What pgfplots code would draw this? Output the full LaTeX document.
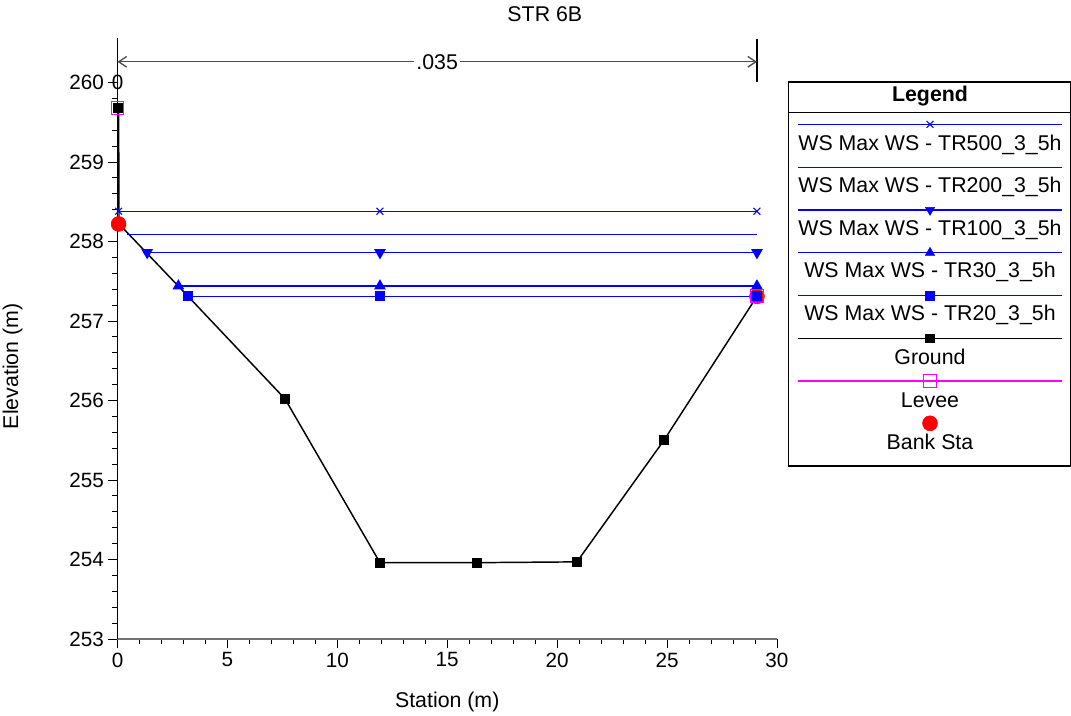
\documentclass[border=0pt]{standalone}
\usepackage{fontspec}
\setmainfont{Liberation Sans}
\usepackage{pgfplots}
\pgfplotsset{compat=1.18}
\usetikzlibrary{arrows.meta}
\definecolor{wsblue}{RGB}{0,0,255}
\definecolor{levee}{RGB}{255,0,255}
\begin{document}
\begin{tikzpicture}[font=\fontsize{16}{19}\selectfont]
\path[use as bounding box] (0,0) rectangle (803.25pt,537pt);
\begin{axis}[
  at={(88.125pt,57.75pt)}, anchor=south west,
  scale only axis, width=494.6pt, height=417.4pt,
  xmin=0, xmax=30, ymin=253, ymax=260,
  axis x line*=bottom, axis y line*=left,
  x axis line style={black!55, line width=1pt, -},
  y axis line style={black, line width=0.8pt, -},
  xtick={0,5,...,30}, ytick={253,254,...,260},
  minor x tick num=4, minor y tick num=4,
  tick align=outside, major tick length=6.75pt, minor tick length=4pt,
  every tick/.style={black, line width=0.6pt},
  /pgf/number format/assume math mode=true,
  tick label style={font=\fontsize{15.5}{18}\selectfont},
  xlabel={Station (m)},
  xlabel style={at={(axis description cs:0.5,-0.1132)}, anchor=center},
  ylabel={Elevation (m)},
  ylabel style={at={(axis description cs:-0.1592,0.49)}, anchor=center},
  title={STR 6B},
  title style={at={(axis description cs:0.648,1.1087)}, anchor=center},
  clip=false,
]
% Ground
\addplot[black, line width=1.1pt, mark=square*, mark size=3.3pt, mark options={solid}]
  coordinates {(0.05,259.68) (0.07,258.22) (3.21,257.31) (7.62,256.02) (11.94,253.96)
               (16.36,253.96) (20.90,253.97) (24.86,255.50) (29.09,257.31)};
% Bank Sta
\addplot[only marks, mark=*, red, mark size=5.6pt] coordinates {(0.05,258.22) (29.09,257.31)};
% WS TR500
\addplot[wsblue, line width=1.1pt, mark=x, mark size=3.6pt, mark options={line width=0.8pt}]
  coordinates {(0.05,258.38) (11.94,258.38) (29.09,258.38)};
% WS TR200
\addplot[wsblue, line width=1.1pt] coordinates {(0.43,258.09) (29.09,258.09)};
% WS TR100
\addplot[wsblue, line width=1.1pt, mark=triangle*, mark size=4pt, mark options={rotate=180}]
  coordinates {(1.35,257.86) (11.94,257.86) (29.09,257.86)};
% WS TR30
\addplot[wsblue, line width=1.1pt, mark=triangle*, mark size=4pt]
  coordinates {(2.77,257.44) (11.94,257.44) (29.09,257.44)};
% WS TR20
\addplot[wsblue, line width=1.1pt, mark=square*, mark size=3.3pt]
  coordinates {(3.21,257.31) (11.94,257.31) (29.09,257.31)};
% Levee
\addplot[only marks, mark=square, levee, mark size=4.8pt, mark options={line width=0.8pt}]
  coordinates {(0.0,259.68) (29.09,257.31)};
% n-value bracket
\draw[black, line width=1pt] (axis cs:29.09,260.55) -- (axis cs:29.09,260.0);
\draw[black, line width=1pt] (axis cs:0,260.56) -- (axis cs:0,259.9);
\draw[black!70, line width=1pt, {Straight Barb[length=6pt,width=8pt]}-{Straight Barb[length=6pt,width=8pt]}]
  (axis cs:0,260.26) -- (axis cs:29.09,260.26);
\node[fill=white, inner sep=1.5pt] at (axis cs:14.54,260.26) {.035};
\node[inner sep=0pt] at (axis cs:0,260) {\fontsize{15.5}{18}\selectfont 0};
\end{axis}
% Legend
\begin{scope}[x=0.75pt, y=-0.75pt, shift={(0pt,537pt)}]
\draw[line width=0.8pt] (788.5,82) rectangle (1070.5,466);
\draw[line width=0.8pt] (788.5,112.3) -- (1070.5,112.3);
\node[font=\fontsize{16}{19}\selectfont\bfseries] at (930,96) {Legend};
\draw[wsblue, line width=1.1pt] (798,124.3) -- (1062,124.3);
\draw[wsblue, line width=0.8pt] plot[only marks, mark=x, mark size=3.6pt] coordinates {(930,124.3)};
\node at (930,145) {WS Max WS - TR500\_3\_5h};
\draw[wsblue, line width=1.1pt] (798,167.3) -- (1062,167.3);
\node at (930,187) {WS Max WS - TR200\_3\_5h};
\draw[wsblue, line width=1.1pt] (798,210) -- (1062,210);
\path[wsblue] plot[only marks, mark=triangle*, mark size=4pt, mark options={rotate=180}] coordinates {(930,210)};
\node at (930,230) {WS Max WS - TR100\_3\_5h};
\draw[wsblue, line width=1.1pt] (798,252.7) -- (1062,252.7);
\path[wsblue] plot[only marks, mark=triangle*, mark size=4pt] coordinates {(930,252.7)};
\node at (930,272) {WS Max WS - TR30\_3\_5h};
\draw[wsblue, line width=1.1pt] (798,295.7) -- (1062,295.7);
\path[wsblue] plot[only marks, mark=square*, mark size=3.3pt] coordinates {(930,295.7)};
\node at (930,315) {WS Max WS - TR20\_3\_5h};
\draw[black, line width=1.1pt] (798,338.3) -- (1062,338.3);
\path[black] plot[only marks, mark=square*, mark size=3.3pt] coordinates {(930,338.3)};
\node at (930,357) {Ground};
\draw[levee, line width=1.1pt] (798,381) -- (1062,381);
\draw[levee, line width=0.8pt] plot[only marks, mark=square, mark size=4.8pt] coordinates {(930,381)};
\node at (930,400) {Levee};
\path[red] plot[only marks, mark=*, mark size=5.6pt] coordinates {(930,423.3)};
\node at (930,442) {Bank Sta};
\end{scope}
\end{tikzpicture}
\end{document}
